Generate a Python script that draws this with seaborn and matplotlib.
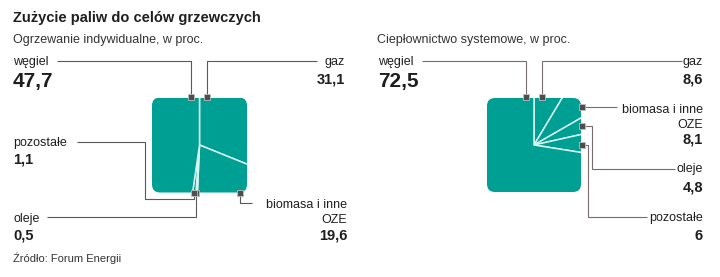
import matplotlib
matplotlib.use("Agg")
import matplotlib.pyplot as plt
from matplotlib.patches import FancyBboxPatch
import seaborn as sns
import pandas as pd

# ---------------- data ----------------
title = "Zużycie paliw do celów grzewczych"
subtitle_left = "Ogrzewanie indywidualne, w proc."
subtitle_right = "Ciepłownictwo systemowe, w proc."
source = "Źródło: Forum Energii"

categories = ["węgiel", "gaz", "biomasa i inne\nOZE", "oleje", "pozostałe"]
indywidualne = [47.7, 31.1, 19.6, 0.5, 1.1]
systemowe = [72.5, 8.6, 8.1, 4.8, 6.0]
# clockwise drawing order starting at 12 o'clock
pie_order = [1, 2, 3, 4, 0]

# ---------------- style ----------------
sns.set_theme(style="white")
plt.rcParams["font.family"] = ["Liberation Sans Narrow", "Liberation Sans", "DejaVu Sans"]

TEAL = "#009f93"
EDGE = "#d9f4f0"
TXT = "#1e1e1e"
LEAD_L = "#5a5a5a"
LEAD_R = "#7a6d6d"

W, H = 720, 277
fig = plt.figure(figsize=(W / 100, H / 100), dpi=100)


def fmt(v):
    s = f"{v:.1f}".replace(".", ",")
    if s.endswith(",0"):
        s = s[:-2]
    return s


def square_pie(cx, cy, half, values):
    ax = fig.add_axes([(cx - half) / W, (H - cy - half) / H, 2 * half / W, 2 * half / H])
    vals = [values[i] for i in pie_order]
    wedges, _ = ax.pie(vals, colors=[TEAL] * len(vals), startangle=90, counterclock=False,
                       radius=1.6, wedgeprops=dict(edgecolor=EDGE, linewidth=1.1))
    ax.set_xlim(-1, 1)
    ax.set_ylim(-1, 1)
    ax.set_aspect("auto")
    clip = FancyBboxPatch((-1, -1), 2, 2, boxstyle="round,pad=0,rounding_size=0.17",
                          transform=ax.transData, facecolor="none", edgecolor="none")
    for w in wedges:
        w.set_clip_on(True)
        w.set_clip_path(clip)
    ax.axis("off")
    return ax


square_pie(199.5, 145, 47.5, indywidualne)
square_pie(534, 145, 47, systemowe)

ov = fig.add_axes([0, 0, 1, 1])
ov.set_xlim(0, W)
ov.set_ylim(H, 0)
ov.axis("off")
ov.patch.set_alpha(0)

# ---------------- layout of annotations (pixel coords) ----------------
leaders_left = {
    0: [(57, 60.7), (191, 60.7), (191, 95)],
    1: [(206.5, 95), (206.5, 60.7), (317, 60.7)],
    2: [(239.5, 194), (239.5, 202.7), (252, 202.7)],
    3: [(47, 217), (196, 217), (196, 194)],
    4: [(77, 141.5), (145, 141.5), (145, 199), (193.5, 199), (193.5, 194)],
}
markers_left = {0: (190.5, 96.5), 1: (206.5, 96.5), 2: (239.5, 192.5),
                3: (196, 193), 4: (193.5, 193)}

leaders_right = {
    0: [(422, 60.7), (525.5, 60.7), (525.5, 95)],
    1: [(541.5, 95), (541.5, 60.7), (682, 60.7)],
    2: [(582, 106.5), (617, 106.5)],
    3: [(582, 125.5), (592, 125.5), (592, 169), (675, 169)],
    4: [(582, 144.5), (588, 144.5), (588, 217), (647, 217)],
}
markers_right = {0: (525.5, 96.5), 1: (541.5, 96.5), 2: (582, 106.5),
                 3: (582, 125.5), 4: (582, 144.5)}

# label placements: (x, label baseline, value baseline, ha, value size)
labels_left = {
    0: (13, 65, 87, "left", 15),
    1: (345, 65, 83.5, "right", 10.5),
    2: (347, 208, 240, "right", 10.5),
    3: (13, 222, 239, "left", 10.5),
    4: (13, 146, 163, "left", 10.5),
}
labels_right = {
    0: (378, 65, 87, "left", 15),
    1: (703, 65, 83.5, "right", 10.5),
    2: (703, 113, 144, "right", 10.5),
    3: (703, 172, 192, "right", 10.5),
    4: (703, 221, 240, "right", 10.5),
}


def draw_side(values, leaders, markers, labels, lead_color):
    for i, pts in leaders.items():
        xs, ys = zip(*pts)
        ov.plot(xs, ys, color=lead_color, lw=0.8, solid_capstyle="butt", zorder=2)
    mdf = pd.DataFrame({"x": [markers[i][0] for i in range(len(values))],
                        "y": [markers[i][1] for i in range(len(values))]})
    sns.scatterplot(data=mdf, x="x", y="y", ax=ov, marker="s", s=22, color="#4e4e4e",
                    edgecolor="#bdbdbd", linewidth=0.6, zorder=3, legend=False)
    for i, (x, yl, yv, ha, vs) in labels.items():
        name = categories[i]
        if "\n" in name:
            first, second = name.split("\n")
            ov.text(x, yl, first, ha=ha, va="baseline", fontsize=9, color=TXT)
            ov.text(x, yl + 15, second, ha=ha, va="baseline", fontsize=9, color=TXT)
        else:
            ov.text(x, yl, name, ha=ha, va="baseline", fontsize=9, color=TXT)
        ov.text(x, yv, fmt(values[i]), ha=ha, va="baseline", fontsize=vs,
                fontweight="bold", color=TXT)


draw_side(indywidualne, leaders_left, markers_left, labels_left, LEAD_L)
draw_side(systemowe, leaders_right, markers_right, labels_right, LEAD_R)
ov.set_xlim(0, W)
ov.set_ylim(H, 0)
ov.axis("off")

ov.text(13, 22, title, ha="left", va="baseline", fontsize=10.5, fontweight="bold", color=TXT)
ov.text(13, 43, subtitle_left, ha="left", va="baseline", fontsize=9, color="#333333")
ov.text(377, 43, subtitle_right, ha="left", va="baseline", fontsize=9, color="#333333")
ov.text(13, 262, source, ha="left", va="baseline", fontsize=8, color="#333333")

fig.savefig("out.png", dpi=100, facecolor="white")
